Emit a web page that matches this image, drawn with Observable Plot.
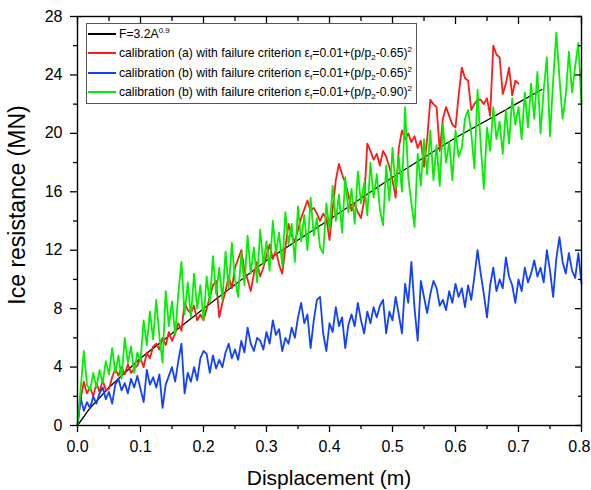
<!DOCTYPE html>
<html>
<head>
<meta charset="utf-8">
<script src="https://cdn.jsdelivr.net/npm/d3@7"></script>
<script src="https://cdn.jsdelivr.net/npm/@observablehq/plot@0.6"></script>
<style>
  html, body { margin: 0; padding: 0; background: #fff; }
  #wrap { position: relative; width: 591px; height: 490px; font-family: Arial, "Liberation Sans", sans-serif; }
  #legend { position: absolute; left: 86px; top: 23px; width: 331px; height: 81px; border: 1px solid #555; background: #fff; box-sizing: border-box; }
  .row { position: absolute; left: 0; height: 18px; display: flex; align-items: center; font-size: 12.2px; color: #000; white-space: nowrap; }
  .sw { display: inline-block; width: 28px; height: 2px; margin-left: 1px; margin-right: 3px; }
  sub, sup { font-size: 8px; line-height: 0; }
</style>
</head>
<body>
<div id="wrap"></div>
<script>
// ---- data ----
const step = 0.005; // sample spacing of the measured series (m)

const fitX = [0, 0.02, 0.05, 0.1, 0.2, 0.3, 0.4, 0.5, 0.6, 0.7, 0.737];
const fitY = [0, 1.2, 2.6, 4.6, 8.0, 11.3, 14.1, 17.0, 19.7, 22.1, 23.0];

const redY = [0,1.8,3.0,2.2,2.6,2.0,2.9,2.3,3.1,2.4,2.5,3.3,3.9,3.4,4.0,3.5,4.2,3.6,3.9,4.1,
  4.6,4.0,5.0,4.6,5.4,5.6,5.2,6.0,5.5,6.4,5.8,6.3,7.0,6.5,8.4,7.9,7.7,8.2,7.2,7.6,
  7.2,8.0,8.8,9.6,9.9,7.4,8.4,9.2,10.2,9.4,10.8,11.4,12.0,10.6,10.0,9.2,10.4,11.2,10.2,10.8,
  11.6,12.4,11.4,12.0,11.0,10.4,12.2,13.8,13.0,12.6,13.4,14.2,14.8,15.4,14.7,14.9,14.5,14.0,14.5,14.2,
  12.7,14.8,16.8,17.9,17.2,16.6,15.8,14.7,15.2,14.6,14.2,15.4,19.3,18.8,18.2,18.6,17.8,18.8,18.4,17.7,
  16.8,15.6,19.0,20.2,19.6,20.0,19.4,19.8,19.0,19.5,17.7,19.6,22.3,22.0,21.8,18.8,21.0,21.8,21.2,20.6,
  20.4,22.6,24.5,23.8,23.6,21.6,22.0,22.3,22.3,22.0,22.4,21.2,26.0,25.4,25.2,22.7,23.4,24.5,22.6,23.6,23.4];

const blueY = [0,1.9,1.0,1.6,1.2,2.0,1.5,2.2,2.6,1.8,2.3,1.5,2.8,3.2,2.4,2.9,2.2,3.2,2.6,3.4,
  2.5,1.6,3.8,2.8,3.3,2.6,3.5,1.2,2.8,3.4,4.0,3.0,4.4,5.6,2.2,3.6,3.0,4.0,3.1,4.6,
  5.1,4.9,3.6,4.8,3.9,4.5,4.0,5.0,5.6,4.6,5.2,4.5,5.8,5.0,6.7,5.6,5.1,6.0,5.8,5.2,
  6.4,5.6,7.2,6.2,6.6,5.1,6.0,5.6,6.7,6.0,7.4,8.4,7.0,7.6,5.3,7.2,8.6,8.8,6.3,5.1,
  7.0,6.4,8.1,6.8,7.4,5.3,6.9,7.6,6.8,8.4,7.2,6.3,7.8,7.0,8.1,7.4,8.2,8.6,6.3,7.8,
  7.2,8.8,7.6,6.3,9.7,8.4,11.2,8.0,5.8,9.9,8.8,7.7,9.0,9.9,9.4,8.2,8.6,7.9,9.2,8.4,
  9.7,8.8,9.4,8.1,9.6,8.6,10.2,12.0,10.4,9.0,7.4,9.6,10.8,9.2,10.0,9.4,11.5,10.2,9.6,8.4,
  10.0,9.2,10.8,9.8,10.4,11.3,10.2,10.8,9.8,12.0,10.6,8.8,11.4,12.9,11.2,10.4,11.8,10.6,10.1,11.8,9.7];

const greenY = [0,2.5,5.1,2.8,2.4,3.6,2.6,3.8,2.9,4.4,3.5,5.3,3.6,4.8,3.2,6.0,4.3,5.4,3.6,5.0,
  4.4,7.2,5.5,7.8,5.9,8.6,6.1,4.3,9.2,6.8,8.5,6.2,9.0,11.2,7.6,9.8,7.4,10.4,8.0,9.6,
  7.2,10.2,8.4,11.6,9.0,10.8,8.6,11.9,9.4,12.5,10.0,8.8,11.8,9.6,13.0,10.4,12.2,9.8,13.4,11.0,
  12.6,10.6,14.0,11.8,13.2,10.9,14.6,12.4,13.8,11.2,15.0,12.6,14.4,12.0,15.6,13.0,14.2,12.2,11.8,15.2,
  13.4,16.4,14.0,15.8,13.2,17.0,14.6,16.2,13.8,17.4,15.2,16.6,14.4,18.0,15.6,17.2,14.8,13.7,17.8,15.4,
  19.0,16.2,18.4,16.0,21.8,17.0,15.2,13.6,18.6,16.4,19.6,17.2,20.2,16.8,19.2,16.4,20.6,18.0,19.4,16.8,
  20.2,18.4,19.0,21.0,21.6,20.0,17.6,23.0,19.2,16.2,20.4,18.8,21.8,19.6,20.8,18.6,21.6,19.3,22.4,20.6,
  21.8,19.6,22.8,20.4,23.4,21.0,24.2,20.0,23.0,25.2,19.8,23.6,26.9,23.8,21.0,22.6,25.6,22.8,24.6,26.2,22.0];

const xMajor = [0, 0.1, 0.2, 0.3, 0.4, 0.5, 0.6, 0.7, 0.8];
const xMinor = [0.05, 0.15, 0.25, 0.35, 0.45, 0.55, 0.65, 0.75];
const yMajor = [0, 4, 8, 12, 16, 20, 24, 28];
const yMinor = [2, 6, 10, 14, 18, 22, 26];

const colors = { fit: "#000000", a065: "#ff1a1a", b065: "#1240ff", b090: "#00f000" };

// ---- build tables ----
const toRows = ys => ys.map((y, i) => ({ x: i * step, y }));
const fit = fitX.map((x, i) => ({ x, y: fitY[i] }));
const red = toRows(redY), blue = toRows(blueY), green = toRows(greenY);

const chart = Plot.plot({
  width: 591, height: 490,
  marginLeft: 77, marginRight: 10, marginTop: 16, marginBottom: 65,
  x: { domain: [0, 0.8] },
  y: { domain: [0, 28] },
  style: { fontFamily: "Arial, 'Liberation Sans', sans-serif", color: "#000", background: "#fff", overflow: "visible" },
  marks: [
    Plot.line(fit, { x: "x", y: "y", stroke: colors.fit, strokeWidth: 1.3 }),
    Plot.line(red, { x: "x", y: "y", stroke: colors.a065, strokeWidth: 1.8 }),
    Plot.line(blue, { x: "x", y: "y", stroke: colors.b065, strokeWidth: 1.8 }),
    Plot.line(green, { x: "x", y: "y", stroke: colors.b090, strokeWidth: 1.8 }),
    Plot.frame({ stroke: "#000", strokeWidth: 1.4 }),
    Plot.axisX(xMajor, { anchor: "bottom", tickSize: 7, tickPadding: 8, tickFormat: d => d.toFixed(1), fontSize: 16, label: null, strokeWidth: 1.3 }),
    Plot.axisX(xMinor, { anchor: "bottom", tickSize: 4, text: null, label: null, strokeWidth: 1.3 }),
    Plot.axisX(xMajor, { anchor: "top", tickSize: -7, text: null, label: null, strokeWidth: 1.3 }),
    Plot.axisX(xMinor, { anchor: "top", tickSize: -4, text: null, label: null, strokeWidth: 1.3 }),
    Plot.axisY(yMajor, { anchor: "left", tickSize: 7, tickPadding: 8, tickFormat: d => String(d), fontSize: 16, label: null, strokeWidth: 1.3 }),
    Plot.axisY(yMinor, { anchor: "left", tickSize: 4, text: null, label: null, strokeWidth: 1.3 }),
    Plot.axisY(yMajor, { anchor: "right", tickSize: -7, text: null, label: null, strokeWidth: 1.3 }),
    Plot.axisY(yMinor, { anchor: "right", tickSize: -4, text: null, label: null, strokeWidth: 1.3 })
  ]
});

const svg = d3.select(chart);
// keep the last x tick label ("0.8") inside the picture
svg.selectAll("text")
  .filter(function () { return this.textContent === "0.8"; })
  .attr("text-anchor", "end")
  .attr("dx", 9);

svg.append("text")
  .attr("x", 329).attr("y", 485)
  .attr("text-anchor", "middle")
  .attr("font-size", 21)
  .attr("fill", "#000")
  .text("Displacement (m)");
svg.append("text")
  .attr("transform", "translate(25,205) rotate(-90)")
  .attr("text-anchor", "middle")
  .attr("font-size", 23)
  .attr("fill", "#000")
  .text("Ice resistance (MN)");

const wrap = document.getElementById("wrap");
wrap.appendChild(chart);

// ---- legend ----
const legendItems = [
  { c: colors.fit, html: "F=3.2A<sup>0.9</sup>" },
  { c: colors.a065, html: "calibration (a) with failure criterion &epsilon;<sub>f</sub>=0.01+(p/p<sub>2</sub>-0.65)<sup>2</sup>" },
  { c: colors.b065, html: "calibration (b) with failure criterion &epsilon;<sub>f</sub>=0.01+(p/p<sub>2</sub>-0.65)<sup>2</sup>" },
  { c: colors.b090, html: "calibration (b) with failure criterion &epsilon;<sub>f</sub>=0.01+(p/p<sub>2</sub>-0.90)<sup>2</sup>" }
];
const rowTops = [1, 20, 40, 59];
const legend = document.createElement("div");
legend.id = "legend";
legendItems.forEach((it, i) => {
  const r = document.createElement("div");
  r.className = "row";
  r.style.top = rowTops[i] + "px";
  const sw = document.createElement("span");
  sw.className = "sw";
  sw.style.backgroundColor = it.c;
  const tx = document.createElement("span");
  tx.innerHTML = it.html;
  r.appendChild(sw);
  r.appendChild(tx);
  legend.appendChild(r);
});
wrap.appendChild(legend);
</script>
</body>
</html>
